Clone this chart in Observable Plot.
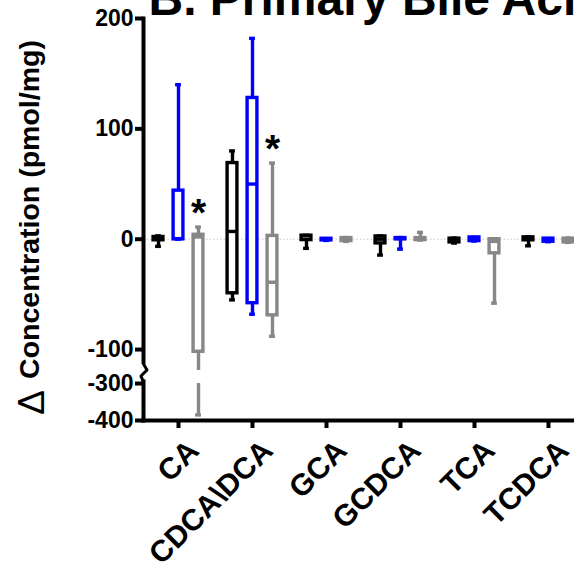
<!DOCTYPE html>
<html><head><meta charset="utf-8">
<script src="https://cdn.jsdelivr.net/npm/d3@7"></script>
<script src="https://cdn.jsdelivr.net/npm/@observablehq/plot@0.6"></script>
<style>html,body{margin:0;padding:0;background:#fff;overflow:hidden;}</style>
</head><body><div id="chart"></div>
<script>
// ---------- data ----------
const categories = ["CA", "CDCA\\DCA", "GCA", "GCDCA", "TCA", "TCDCA"];
const groupNames = ["Group 1", "Group 2", "Group 3"];
const groupColors = ["#000000", "#0000ff", "#878787"];

const g1Min    = [-6.5, -55, -8.3, -14.4, -3.5, -6];
const g1Q1     = [-1, -49, -0.8, -3.8, -2.9, -1];
const g1Median = [0, 7, 0, 0, -1, 0];
const g1Q3     = [2, 69, 3.2, 2.5, 0.5, 1.7];
const g1Max    = [3, 80, 3.5, 3, 1, 2];

const g2Min    = [0, -68, -1.1, -9, -1.7, -2.3];
const g2Q1     = [0, -58, -1.1, 0, -1.7, -2.3];
const g2Median = [0.5, 50, 0, 0.5, 0, -1];
const g2Q3     = [44, 128, 0.4, 1, 1.6, 0.5];
const g2Max    = [140, 182, 0.4, 1.5, 1.6, 0.5];

const g3Min    = [-385, -88, -2, -0.8, -58, -2.9];
const g3Q1     = [-102, -69, -1.7, -0.8, -12.8, -2.9];
const g3Median = [2, -39, 0, 0, -2, 0];
const g3Q3     = [4, 3, 1, 1, 0, 0.5];
const g3Max    = [11, 69, 1.5, 6.2, 0.5, 1];

const significant = ["CA", "CDCA\\DCA"]; // starred (group 3)
const yTicks = [200, 100, 0, -100, -300, -400];
const title = "B. Primary Bile Acids";
const yTitle = "Concentration (pmol/mg)";

// ---------- broken axis ----------
const UPPER_MIN = -119;   // lowest value shown on upper segment
const LOWER_MAX = -300;   // highest value shown on lower segment
const LOWER_TOP_T = -130.8;
const LOWER_K = 0.335;
const brk = v => v >= UPPER_MIN ? v : LOWER_TOP_T + (v - LOWER_MAX) * LOWER_K;
const unbrk = new Map(yTicks.map(v => [brk(v), v]));

const W = 574, H = 568;
const xRange = [140, 585];
const bw = (xRange[1] - xRange[0]) / categories.length;
const offsets = [-20, 0, 20];
const ins = (o, w) => ({insetLeft: bw / 2 + o - w / 2, insetRight: bw / 2 - o - w / 2});

const stats = [
  [g1Min, g1Q1, g1Median, g1Q3, g1Max],
  [g2Min, g2Q1, g2Median, g2Q3, g2Max],
  [g3Min, g3Q1, g3Median, g3Q3, g3Max]
];

function splitSeg(lo, hi) {
  if (lo >= UPPER_MIN || hi <= LOWER_MAX) return [[lo, hi]];
  return [[lo, LOWER_MAX], [UPPER_MIN, hi]];
}

const SW = 3.4;
const marks = [
  Plot.ruleY([0], {stroke: "#c8c8c8", strokeWidth: 1, strokeDasharray: "1.5,2"})
];

stats.forEach((s, gi) => {
  const [mn, q1, md, q3, mx] = s;
  const color = groupColors[gi], o = offsets[gi];
  const rows = categories.map((c, i) => ({cat: c, group: groupNames[gi], min: mn[i], q1: q1[i], median: md[i], q3: q3[i], max: mx[i]}));
  const segs = rows.flatMap(r => splitSeg(r.min, r.max).map(([a, b]) => ({cat: r.cat, a, b})));
  marks.push(
    Plot.ruleX(segs, {x: "cat", y1: d => brk(d.a), y2: d => brk(d.b), dx: o, stroke: color, strokeWidth: SW}),
    Plot.barY(rows, {x: "cat", y1: d => brk(d.q1), y2: d => brk(d.q3), fill: "white", stroke: color, strokeWidth: SW, ...ins(o, 10)}),
    Plot.tickY(rows, {x: "cat", y: d => brk(d.median), stroke: color, strokeWidth: SW, ...ins(o, 12)}),
    Plot.tickY(rows, {x: "cat", y: d => brk(d.max), stroke: color, strokeWidth: SW, ...ins(o, 6)}),
    Plot.tickY(rows, {x: "cat", y: d => brk(d.min), stroke: color, strokeWidth: SW, ...ins(o, 6)})
  );
});

// significance stars on group 3
const starRows = significant.map(c => ({cat: c, y: g3Max[categories.indexOf(c)]}));
marks.push(Plot.text(starRows, {x: "cat", y: d => brk(d.y), text: () => "*", dx: offsets[2], dy: -1, lineAnchor: "bottom", fontSize: 39, fontWeight: "bold", fill: "black"}));

// axes
marks.push(
  Plot.frame({anchor: "left", strokeWidth: 4, stroke: "black"}),
  Plot.frame({anchor: "bottom", strokeWidth: 4, stroke: "black"}),
  Plot.rect([0], {y1: () => -113.5, y2: () => -127.5, fill: "white", insetLeft: -6, insetRight: W - 143 - 6}),
  Plot.vector([-121.3], {y: d => d, frameAnchor: "left", anchor: "start", length: 1, rotate: 0, stroke: "black", strokeWidth: 3,
    shape: {draw(ctx) { ctx.moveTo(0, -9); ctx.lineTo(3.5, -3); ctx.lineTo(-2.5, 3); ctx.lineTo(0, 9); }}}),
  Plot.axisY({ticks: yTicks.map(brk), tickFormat: t => String(unbrk.get(t)), tickSize: 8, tickPadding: 2, strokeWidth: 4, fontSize: 23, label: null}),
  Plot.axisX({tickSize: 8, strokeWidth: 4, tickFormat: () => "", label: null}),
  Plot.text(categories, {x: d => d, frameAnchor: "bottom", rotate: -45, textAnchor: "end", lineAnchor: "bottom", dx: 22, dy: 32, fontSize: 30, fontWeight: "bold"}),
  Plot.text([yTitle], {frameAnchor: "left", rotate: -90, textAnchor: "middle", lineAnchor: "bottom", dx: 38 - 143, dy: -10, fontSize: 28.5, fontWeight: "bold"}),
  Plot.text(["\u0394"], {frameAnchor: "left", rotate: -90, textAnchor: "middle", lineAnchor: "bottom", dx: 43 - 143, dy: 183, fontSize: 37, fontWeight: "normal"}),
  Plot.text([title], {frameAnchor: "top-left", textAnchor: "start", lineAnchor: "bottom", dx: 5, dy: -4, fontSize: 48, fontWeight: "bold"})
);

const chart = Plot.plot({
  width: W, height: H,
  marginTop: 18, marginBottom: 148, marginLeft: 143, marginRight: 0,
  style: {fontFamily: "'Liberation Sans', Arial, sans-serif", fontWeight: "bold", color: "black", background: "white", overflow: "hidden"},
  x: {type: "band", domain: categories, range: xRange, padding: 0, label: null},
  y: {domain: [brk(-400), 200], label: null},
  marks
});
document.getElementById("chart").appendChild(chart);
</script>
</body></html>
